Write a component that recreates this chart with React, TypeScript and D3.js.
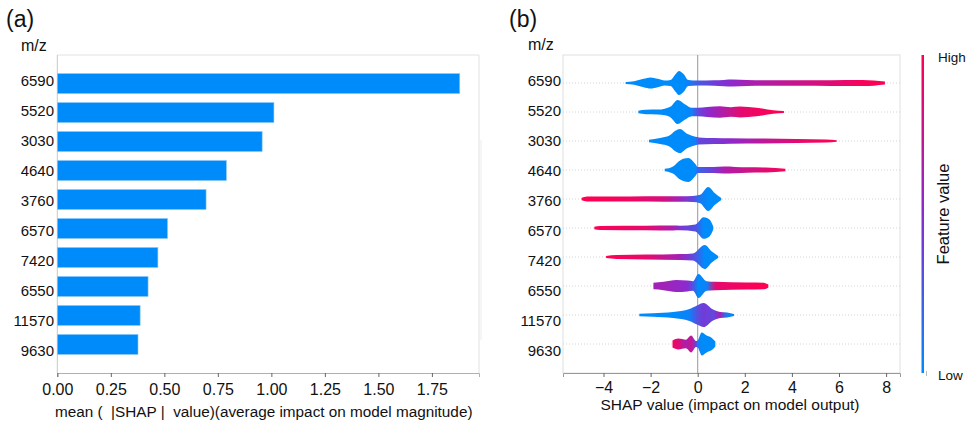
import * as d3 from 'd3';
import React, { useEffect, useRef } from 'react';

// feature names (m/z), top to bottom
const features = ["6590", "5520", "3030", "4640", "3760", "6570", "7420", "6550", "11570", "9630"];

// panel (a): mean |SHAP| per feature
const meanAbsShap = [1.88, 1.012, 0.957, 0.79, 0.695, 0.515, 0.47, 0.424, 0.387, 0.377];
const barTicks = [0, 0.25, 0.5, 0.75, 1.0, 1.25, 1.5, 1.75];

// panel (b): beeswarm profile per feature
// each knot: [shap value, relative density (0-1), mean feature value (0 low - 1 high)]
const swarm6590 = [
    [-3.06, 0.08, 0], [-2.7, 0.15, 0], [-2.3, 0.35, 0], [-2.0, 0.46, 0], [-1.7, 0.35, 0],
    [-1.4, 0.2, 0], [-1.15, 0.25, 0], [-0.95, 0.7, 0], [-0.8, 1.0, 0], [-0.6, 0.75, 0],
    [-0.4, 0.25, 0.05], [0, 0.2, 0.25], [0.7, 0.22, 0.4], [1.5, 0.3, 0.52], [2.1, 0.25, 0.62],
    [3.5, 0.22, 0.72], [5.0, 0.22, 0.82], [6.3, 0.26, 0.9], [7.0, 0.26, 0.97], [7.95, 0.12, 1]
];
const swarm5520 = [
    [-2.52, 0.1, 0], [-2.2, 0.18, 0], [-1.7, 0.2, 0], [-1.4, 0.28, 0], [-1.15, 0.45, 0],
    [-0.85, 1.0, 0], [-0.55, 0.65, 0], [-0.25, 0.35, 0.05], [0, 0.35, 0.35], [0.4, 0.42, 0.5],
    [0.95, 0.48, 0.64], [1.4, 0.4, 0.75], [1.8, 0.45, 0.88], [2.5, 0.35, 0.94], [3.2, 0.15, 0.98],
    [3.66, 0.08, 1]
];
const swarm3030 = [
    [-2.07, 0.1, 0], [-1.6, 0.25, 0], [-1.2, 0.45, 0], [-0.95, 0.85, 0], [-0.75, 1.0, 0],
    [-0.45, 0.6, 0], [-0.1, 0.35, 0.05], [0.05, 0.3, 0.35], [0.7, 0.25, 0.42], [1.4, 0.22, 0.52],
    [2.8, 0.2, 0.72], [4.2, 0.17, 0.88], [5.45, 0.13, 0.97], [5.9, 0.07, 1]
];
const swarm4640 = [
    [-1.4, 0.1, 0], [-1.05, 0.3, 0], [-0.75, 0.8, 0], [-0.4, 1.0, 0], [-0.1, 0.5, 0],
    [0, 0.25, 0.2], [0.65, 0.25, 0.4], [1.1, 0.3, 0.64], [2.1, 0.22, 0.78], [2.9, 0.2, 0.88],
    [3.72, 0.1, 0.97]
];
const swarm3760 = [
    [-4.93, 0.1, 1], [-4.7, 0.2, 1], [-2.9, 0.2, 0.95], [-1.45, 0.22, 0.82], [-0.75, 0.22, 0.58],
    [-0.2, 0.25, 0.35], [0.1, 0.35, 0.1], [0.45, 1.0, 0], [0.72, 0.5, 0], [1.0, 0.08, 0]
];
const swarm6570 = [
    [-4.39, 0.1, 1], [-4.15, 0.16, 0.97], [-2.2, 0.18, 0.9], [-1.05, 0.2, 0.64], [-0.75, 0.18, 0.45],
    [-0.1, 0.3, 0.3], [0.25, 0.9, 0], [0.5, 0.7, 0], [0.66, 0.12, 0]
];
const swarm7420 = [
    [-3.89, 0.08, 1], [-3.45, 0.16, 0.97], [-2.2, 0.2, 0.9], [-0.75, 0.25, 0.6], [-0.2, 0.3, 0.35],
    [0.3, 1.0, 0], [0.6, 0.45, 0], [0.87, 0.08, 0]
];
const swarm6550 = [
    [-1.88, 0.28, 0.6], [-1.45, 0.35, 0.6], [-0.9, 0.5, 0.55], [-0.45, 0.45, 0.5], [-0.2, 0.4, 0.3],
    [0.03, 1.0, 0], [0.38, 0.4, 0.05], [0.75, 0.35, 0.88], [2.1, 0.3, 0.96], [2.8, 0.28, 1],
    [3.0, 0.12, 1]
];
const swarm11570 = [
    [-2.48, 0.1, 0], [-1.9, 0.15, 0], [-1.05, 0.25, 0], [-0.35, 0.5, 0.05], [-0.03, 0.8, 0.3],
    [0.25, 1.0, 0.42], [0.65, 0.45, 0.35], [0.95, 0.25, 0.6], [1.25, 0.2, 0.05], [1.54, 0.08, 0]
];
const swarm9630 = [
    [-1.07, 0.3, 0.95], [-0.82, 0.45, 0.85], [-0.5, 0.35, 0.65], [-0.28, 0.7, 0.75], [-0.07, 0.25, 0.4],
    [0.0, 0.3, 0.1], [0.17, 0.95, 0], [0.38, 0.7, 0], [0.6, 0.5, 0], [0.75, 0.2, 0]
];
const swarmProfiles = [swarm6590, swarm5520, swarm3030, swarm4640, swarm3760,
    swarm6570, swarm7420, swarm6550, swarm11570, swarm9630];
const shapTicks = [-4, -2, 0, 2, 4, 6, 8];

const FONT = '"Liberation Sans", Arial, Helvetica, sans-serif';

const App = () => {
    const ref = useRef<HTMLDivElement>(null);

    useEffect(() => {
        if (!ref.current) return;
        d3.select(ref.current).selectAll("*").remove();
        const svg = d3.select(ref.current)
            .append("svg")
            .attr("width", 967)
            .attr("height", 425)
            .style("font-family", FONT)
            .style("display", "block");

        svg.append("rect").attr("width", 967).attr("height", 425).attr("fill", "white");

        const top = 55, bottom = 373;
        const labelY = d3.scalePoint().domain(features).range([81, 351]);
        const color = d3.scaleLinear<string>()
            .domain([0, 0.5, 1])
            .range(["#008bfb", "#8a2bd0", "#ff0052"]);

        // ---------- panel (a) ----------
        const xa = d3.scaleLinear().domain([0, 1.97]).range([57.3, 479]);
        const ya = d3.scaleBand().domain(features).range([top, bottom])
            .paddingInner(0.31).paddingOuter(0.64);

        const ga = svg.append("g");
        ga.append("line").attr("x1", xa.range()[0]).attr("x2", xa.range()[1])
            .attr("y1", top).attr("y2", top).attr("stroke", "#e2e2e2");
        ga.append("line").attr("x1", xa.range()[1]).attr("x2", xa.range()[1])
            .attr("y1", top).attr("y2", bottom).attr("stroke", "#e2e2e2");
        ga.append("line").attr("x1", xa.range()[0]).attr("x2", xa.range()[0])
            .attr("y1", top).attr("y2", bottom).attr("stroke", "#c8c8c8");

        ga.selectAll(".bar")
            .data(features)
            .enter().append("rect")
            .attr("class", "bar")
            .attr("x", xa(0))
            .attr("y", d => ya(d)!)
            .attr("width", (d, i) => xa(meanAbsShap[i]) - xa(0))
            .attr("height", ya.bandwidth())
            .attr("fill", "#008bfb")
            .attr("stroke", "#8cc8fc")
            .attr("stroke-width", 0.6);

        const axA = ga.append("g")
            .attr("transform", `translate(0,${bottom})`)
            .call(d3.axisBottom(xa).tickValues(barTicks).tickFormat(d3.format(".2f")).tickSize(4).tickPadding(7));
        axA.select(".domain").attr("stroke", "#b0b0b0");
        axA.selectAll(".tick line").attr("stroke", "#666");
        axA.selectAll(".tick text").attr("fill", "#111").style("font-size", "16px").style("font-family", FONT);

        ga.selectAll(".ylab")
            .data(features)
            .enter().append("text")
            .attr("x", 54)
            .attr("y", d => labelY(d)!)
            .attr("dy", "0.35em")
            .attr("text-anchor", "end")
            .style("font-size", "15px")
            .attr("fill", "#111")
            .text(d => d);

        ga.append("text").attr("x", 21).attr("y", 51).style("font-size", "16px").attr("fill", "#111").text("m/z");
        ga.append("text").attr("x", 6).attr("y", 27).style("font-size", "23px").attr("fill", "#111").text("(a)");
        ga.append("text").attr("x", 55).attr("y", 417).style("font-size", "15.3px").attr("fill", "#111")
            .attr("xml:space", "preserve")
            .style("white-space", "pre")
            .text("mean (  |SHAP |  value)(average impact on model magnitude)");

        // faint panel divider
        svg.append("line").attr("x1", 481).attr("x2", 481).attr("y1", 140).attr("y2", 340)
            .attr("stroke", "#ececec");

        // ---------- panel (b) ----------
        const xb = d3.scaleLinear().domain([-5.72, 8.59]).range([563, 900]);
        const yb = d3.scalePoint().domain(features).range([83, 344]);
        const r = d3.scaleLinear().domain([0, 1]).range([0, 12]);

        const gb = svg.append("g");
        gb.append("rect").attr("x", 563).attr("y", top).attr("width", 900 - 563).attr("height", bottom - top)
            .attr("fill", "none").attr("stroke", "#e0e0e0");

        gb.selectAll(".rowline")
            .data(features)
            .enter().append("line")
            .attr("x1", 563).attr("x2", 900)
            .attr("y1", d => yb(d)!).attr("y2", d => yb(d)!)
            .attr("stroke", "#d4d4d4")
            .attr("stroke-dasharray", "1,2");

        gb.append("line").attr("x1", xb(0)).attr("x2", xb(0)).attr("y1", top).attr("y2", bottom)
            .attr("stroke", "#999").attr("stroke-width", 1);

        const defs = svg.append("defs");
        swarmProfiles.forEach((prof, i) => {
            const x1 = xb(prof[0][0]);
            const x2 = xb(prof[prof.length - 1][0]);
            const grad = defs.append("linearGradient")
                .attr("id", `swarm-grad-${i}`)
                .attr("gradientUnits", "userSpaceOnUse")
                .attr("x1", x1).attr("x2", x2).attr("y1", 0).attr("y2", 0);
            prof.forEach(k => {
                grad.append("stop")
                    .attr("offset", (xb(k[0]) - x1) / (x2 - x1))
                    .attr("stop-color", color(k[2]));
            });

            const cy = yb(features[i])!;
            const area = d3.area<number[]>()
                .curve(d3.curveMonotoneX)
                .x(d => xb(d[0]))
                .y0(d => cy - r(d[1]))
                .y1(d => cy + r(d[1]));

            gb.append("path")
                .datum(prof)
                .attr("d", area)
                .attr("fill", `url(#swarm-grad-${i})`);
        });

        const axB = gb.append("g")
            .attr("transform", `translate(0,${bottom})`)
            .call(d3.axisBottom(xb).tickValues(shapTicks).tickSize(4).tickPadding(5));
        axB.select(".domain").attr("stroke", "#999");
        axB.selectAll(".tick line").attr("stroke", "#666");
        axB.selectAll(".tick text").attr("fill", "#111").style("font-size", "16px").style("font-family", FONT);

        gb.selectAll(".ylab")
            .data(features)
            .enter().append("text")
            .attr("x", 561)
            .attr("y", d => labelY(d)!)
            .attr("dy", "0.35em")
            .attr("text-anchor", "end")
            .style("font-size", "15px")
            .attr("fill", "#111")
            .text(d => d);

        gb.append("text").attr("x", 528).attr("y", 50).style("font-size", "16px").attr("fill", "#111").text("m/z");
        gb.append("text").attr("x", 509).attr("y", 27).style("font-size", "23px").attr("fill", "#111").text("(b)");
        gb.append("text").attr("x", 730).attr("y", 410).attr("text-anchor", "middle")
            .style("font-size", "15.5px").attr("fill", "#111")
            .text("SHAP value (impact on model output)");

        // colour bar
        const cbar = defs.append("linearGradient")
            .attr("id", "cbar-grad")
            .attr("x1", 0).attr("x2", 0).attr("y1", 1).attr("y2", 0);
        d3.range(0, 1.01, 0.1).forEach(t => {
            cbar.append("stop").attr("offset", t).attr("stop-color", color(t));
        });
        gb.append("rect").attr("x", 921.5).attr("y", top).attr("width", 2.5).attr("height", bottom - top)
            .attr("fill", "url(#cbar-grad)");
        gb.append("line").attr("x1", 926.5).attr("x2", 926.5).attr("y1", 371).attr("y2", 376)
            .attr("stroke", "#bbb");
        gb.append("text").attr("x", 938).attr("y", 57).attr("dy", "0.35em").style("font-size", "13.5px")
            .attr("fill", "#111").text("High");
        gb.append("text").attr("x", 938).attr("y", 375).attr("dy", "0.35em").style("font-size", "13.5px")
            .attr("fill", "#111").text("Low");
        gb.append("text")
            .attr("transform", `translate(943,${(top + bottom) / 2}) rotate(-90)`)
            .attr("text-anchor", "middle")
            .attr("dy", "0.35em")
            .style("font-size", "16.5px")
            .attr("fill", "#111")
            .text("Feature value");
    }, []);

    return <div ref={ref} style={{ position: "absolute", left: 0, top: 0 }} />;
};

export default App;
